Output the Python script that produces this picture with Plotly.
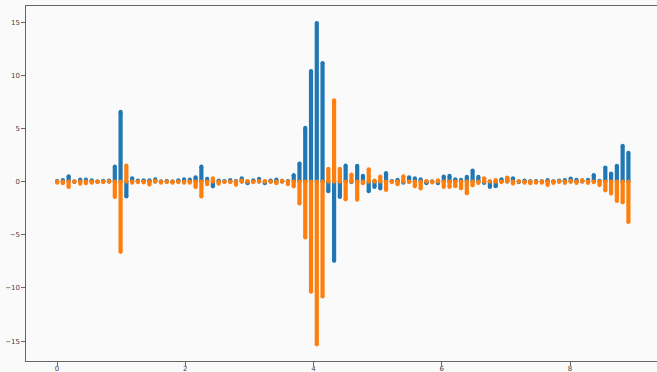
import plotly.graph_objects as go

# x positions: 100 samples, step 0.09
n_points = 100
step = 0.09
x_vals = [round(i * step, 2) for i in range(n_points)]

blue_vals = [
    0.05, 0.15, 0.5, -0.02, 0.18, 0.18, 0.12, 0.0, 0.08, 0.1,
    1.4, 6.55, -1.4, 0.3, 0.1, 0.12, 0.12, 0.2, 0.0, 0.05,
    0.0, 0.12, 0.2, 0.18, 0.4, 1.4, 0.25, -0.45, 0.1, 0.05,
    0.15, 0.05, 0.3, -0.15, 0.12, 0.25, -0.15, 0.1, 0.18, 0.05,
    0.05, 0.6, 1.7, 5.05, 10.4, 14.9, 11.15, -0.9, -7.45, -1.45,
    1.5, -0.05, 1.48, 0.55, -0.9, -0.5, -0.65, 0.79, 0.05, 0.16,
    -0.1, 0.4, 0.3, 0.2, -0.15, 0.0, -0.15, 0.47, 0.53, 0.22,
    0.16, 0.44, 1.04, 0.44, -0.13, -0.5, -0.44, 0.22, 0.3, 0.31,
    -0.05, 0.1, 0.02, 0.05, 0.02, 0.13, 0.02, 0.1, 0.13, 0.28,
    0.16, 0.1, 0.16, 0.6, 0.06, 1.32, 0.75, 1.48, 3.36, 2.7,
]

orange_vals = [
    -0.1, -0.15, -0.5, 0.03, -0.2, -0.15, -0.1, -0.05, -0.05, 0.02,
    -1.45, -6.6, 1.5, -0.1, -0.05, -0.08, -0.28, 0.08, -0.1, -0.05,
    -0.1, -0.05, -0.1, -0.1, -0.52, -1.4, -0.25, 0.3, -0.2, -0.05,
    -0.05, -0.3, 0.1, 0.05, -0.05, 0.05, 0.05, -0.02, -0.15, 0.1,
    -0.25, -0.45, -2.05, -5.25, -10.35, -15.3, -10.8, 1.2, 7.65, 1.2,
    -1.67, 0.65, -1.7, -0.15, 1.15, 0.1, 0.47, -0.79, -0.05, -0.25,
    0.5, -0.03, -0.45, -0.65, 0.05, -0.08, 0.12, -0.5, -0.5, -0.44,
    -0.63, -1.1, -0.35, -0.13, 0.31, 0.03, 0.13, -0.05, 0.38, -0.19,
    0.05, -0.1, -0.15, -0.1, -0.1, -0.31, -0.13, 0.02, -0.13, 0.08,
    -0.13, 0.13, -0.13, -0.05, -0.33, -0.82, -1.13, -1.82, -1.95, -3.8,
]

x_ticks = [0, 2, 4, 6, 8]
y_ticks = [-15, -10, -5, 0, 5, 10, 15]

BLUE = "#1f77b4"
ORANGE = "#ff7f0e"
LW = 4.2


def segments(xs, ys):
    sx, sy = [], []
    for xv, yv in zip(xs, ys):
        sx += [xv, xv, None]
        sy += [0, yv, None]
    return sx, sy


fig = go.Figure()
for vals, color in [(blue_vals, BLUE), (orange_vals, ORANGE)]:
    sx, sy = segments(x_vals, vals)
    fig.add_trace(go.Scatter(
        x=sx, y=sy, mode="lines+markers",
        line=dict(color=color, width=LW),
        marker=dict(color=color, size=LW, line=dict(width=0)),
        hoverinfo="skip", showlegend=False, connectgaps=False,
    ))

axis_color = "#666666"
fig.update_layout(
    width=657, height=372,
    margin=dict(l=26, r=0, t=6, b=11, autoexpand=False),
    paper_bgcolor="#fafafa", plot_bgcolor="#fafafa",
    font=dict(family="DejaVu Sans", size=7, color="#444444"),
    xaxis=dict(
        range=[-0.485, 9.356], tickvals=x_ticks, showgrid=False, zeroline=False,
        showline=True, linecolor=axis_color, linewidth=1.2, mirror=True,
        ticks="outside", ticklen=3.5, tickwidth=0.8, tickcolor=axis_color,
        automargin=False, ticklabelstandoff=-3,
    ),
    yaxis=dict(
        range=[-16.87, 16.51], tickvals=y_ticks, showgrid=False, zeroline=False,
        showline=True, linecolor=axis_color, linewidth=1.2,
        ticks="outside", ticklen=3.5, tickwidth=0.8, tickcolor=axis_color,
        automargin=False,
    ),
)

fig.write_html(
    "out.html",
    config={"displayModeBar": False},
    post_script="document.body.style.margin='0';document.body.style.overflow='hidden';",
)
